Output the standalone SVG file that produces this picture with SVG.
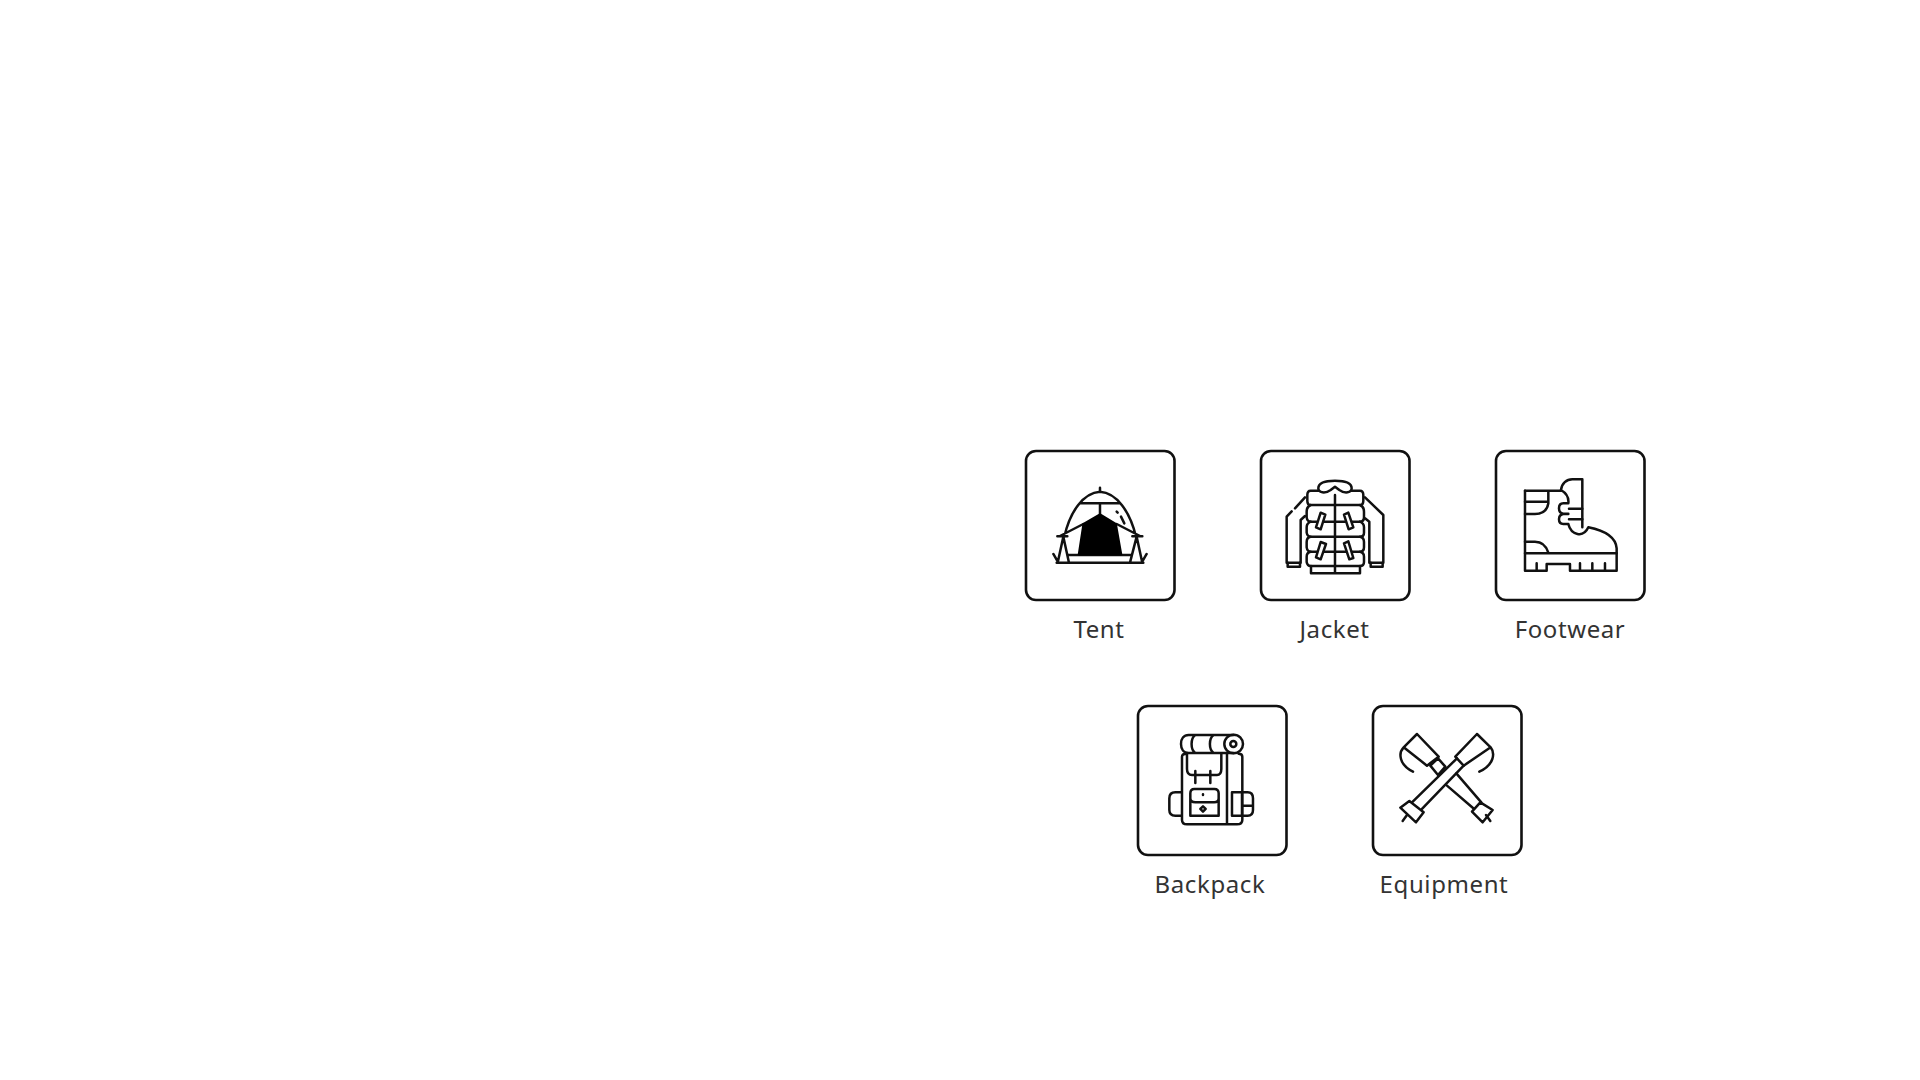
<svg xmlns="http://www.w3.org/2000/svg" width="1920" height="1080" viewBox="0 0 1920 1080">
<style>
.box{fill:#fff;stroke:#111;stroke-width:2.6}
.ic{fill:none;stroke:#111;stroke-width:7.5;stroke-linecap:round;stroke-linejoin:round}
.w{fill:#fff}
.solid{fill:#000;stroke:#000}
.lbl{font-family:"Noto Sans","Open Sans",sans-serif;font-size:24px;fill:#333;text-anchor:middle;letter-spacing:.6px}
</style>
<rect width="1920" height="1080" fill="#fff"/>
<g id="tent">
<rect class="box" x="1026" y="451" width="148.500" height="149" rx="10"/>
<g transform="translate(1015 440) scale(.3333)">
<path class="ic" d="M125 368H385M148 290C165 215 205 158 255 155C305 158 345 215 363 290M255 155V143M195 190H312M255 190V222M127 289H157M352 289H382M135 288L205 252M305 252L375 288M145 290L128 368M145 290L162 368M365 290L345 368M365 290L382 368M115 342L130 368M395 342L380 368M160 345H347"/>
<path class="ic solid" d="M192 343L206 252L255 224L302 252L318 343Z"/>
<path class="ic" d="M305 215L308 218M318 230L328 250"/>
</g>
<text class="lbl" x="1099" y="638">Tent</text>
</g>
<g id="jacket">
<rect class="box" x="1261" y="451" width="148.500" height="149" rx="10"/>
<g transform="translate(1250 440) scale(.3333)">
<path class="ic" d="M212 152H182Q172 152 172 165V182Q172 195 182 195H330Q340 195 340 182V165Q340 152 330 152H298"/>
<path class="ic" d="M182 195Q170 200 170 215V232Q172 245 182 245H330Q342 245 342 232V215Q342 200 330 195"/>
<path class="ic" d="M182 245Q170 250 170 262V278Q172 290 182 290H330Q342 290 342 278V262Q342 250 330 245"/>
<path class="ic" d="M182 290Q170 292 170 306V322Q172 335 182 335H330Q342 335 342 322V306Q342 292 330 290"/>
<path class="ic" d="M182 335Q170 337 170 350V366Q172 378 182 378H330Q342 378 342 366V350Q342 337 330 335"/>
<path class="ic" d="M183 378V400H330V378M255 165V400"/>
<path class="ic w" d="M205 145C205 128 225 122 255 122C285 122 305 128 305 145C305 158 285 162 268 150L255 140L242 150C225 162 205 158 205 145Z"/>
<path class="ic" d="M165 172L135 205M125 214L110 230V368H152V240L165 228M345 172L400 225V368H358V245L345 235"/>
<path class="ic" d="M113 368V380H150V368M362 368V380H398V368"/>
<path class="ic w" d="M212 218L226 224L212 268L198 262ZM282 224L295 218L310 262L296 268ZM212 306L228 312L212 358L198 352ZM282 310L295 304L310 354L298 358Z"/>
</g>
<text class="lbl" x="1334.500" y="638">Jacket</text>
</g>
<g id="footwear">
<rect class="box" x="1496" y="451" width="148.500" height="149" rx="10"/>
<g transform="translate(1485 440) scale(.3333)">
<path class="ic" d="M120 152V392H185V372H255V392H395V325C392 290 360 272 310 262C295 295 258 285 250 252M292 118V262M228 150C230 130 245 118 262 118H292M228 150C245 160 252 175 250 190M250 190H235Q222 190 222 205Q222 220 235 221H250M250 222H235Q222 224 222 238Q222 252 235 252H250"/>
<path class="ic" d="M120 152H228M190 152V190Q185 222 150 222H120M120 185H188M120 305H150Q180 305 190 338M120 340H395M252 206H292M252 238H292M155 392V370M285 392V370M322 392V370M360 392V370"/>
</g>
<text class="lbl" x="1570" y="638">Footwear</text>
</g>
<g id="backpack">
<rect class="box" x="1138" y="706" width="148.500" height="149" rx="10"/>
<g transform="translate(1127 695) scale(.3333)">
<path class="ic" d="M320 120H185C170 120 162 132 162 147C162 162 170 174 185 174H320M205 120C190 130 190 165 205 174M260 120C245 130 245 165 260 174"/>
<circle class="ic" cx="320" cy="147" r="28"/><circle class="ic" cx="319" cy="147" r="9"/>
<path class="ic" d="M165 185V375Q165 388 180 388H330Q346 388 346 375V185Q346 176 335 176M300 176V388M165 185Q165 176 178 176M180 176V222Q180 240 195 240H270Q283 240 283 222V176"/>
<path class="ic" d="M205 228V264M250 228V264"/>
<path class="ic" d="M190 295Q190 282 202 282H262Q275 282 275 295V362H190ZM190 310Q190 322 205 322H262Q275 322 275 310"/>
<path class="ic" d="M228 298V300M228 334L236 342L228 350L220 342Z"/>
<path class="ic" d="M162 292H145Q127 292 127 310V345Q127 362 145 362H162M315 292H345V362H315ZM345 292H362Q378 292 378 310V345Q378 362 362 362H345M350 332H378"/>
</g>
<text class="lbl" x="1210" y="893">Backpack</text>
</g>
<g id="equipment">
<rect class="box" x="1373" y="706" width="148.500" height="149" rx="10"/>
<g transform="translate(1362 695) scale(.3333)">
<path class="ic" d="M255 272L340 345M283 235L358 322"/>
<path class="ic" d="M205 212L228 240L250 215L228 190Z"/>
<path class="ic" d="M165 117L230 185L195 212L125 157ZM125 157C108 175 112 210 153 230"/>
<path class="ic" d="M345 117L280 185L305 212L386 157ZM386 157C400 175 396 210 352 230"/>
<path class="ic" d="M285 190L150 322M305 212L180 342"/>
<path class="ic w" d="M115 338L142 318L185 352L162 382ZM330 350L355 322L392 345L362 382Z"/>
<path class="ic" d="M135 360L122 378M372 360L385 378"/>
</g>
<text class="lbl" x="1444" y="893" letter-spacing=".3">Equipment</text>
</g>
</svg>
